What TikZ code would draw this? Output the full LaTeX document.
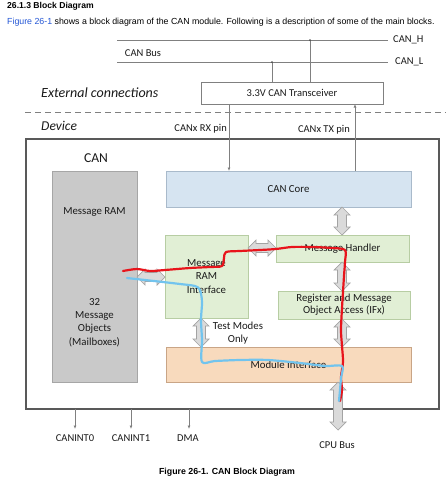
\documentclass[tikz,border=0pt]{standalone}
\usepackage{fontspec}
\setmainfont{Carlito}
\newfontfamily\arialf{Liberation Sans}
\usetikzlibrary{arrows.meta}
\definecolor{linegray}{HTML}{808080}
\definecolor{txt}{HTML}{1A1A1A}
\definecolor{ramfill}{HTML}{C9C9C9}
\definecolor{ramdraw}{HTML}{A6A6A6}
\definecolor{corefill}{HTML}{D6E4F1}
\definecolor{coredraw}{HTML}{A9BACB}
\definecolor{grnfill}{HTML}{E1EFD5}
\definecolor{grndraw}{HTML}{B7CDA3}
\definecolor{miffill}{HTML}{F8DABD}
\definecolor{mifdraw}{HTML}{C9A586}
\definecolor{arrfill}{HTML}{DADADA}
\definecolor{arrdraw}{HTML}{A3A3A3}
\definecolor{linkblue}{HTML}{2457D6}
\definecolor{penred}{HTML}{E8141B}
\definecolor{penblue}{HTML}{72C4EE}
\tikzset{
  boxbase/.style={inner sep=0pt, outer sep=0pt, text=txt, align=center, font=\fontsize{10.8}{12.6}\selectfont},
  grnbox/.style={boxbase, draw=grndraw, fill=grnfill, line width=0.8pt},
  barrow/.style={draw=arrdraw, fill=arrfill, line width=0.7pt, line join=miter},
  thinarr/.style={draw=linegray, line width=0.7pt, -{Latex[length=3.5pt,width=3pt]}},
  lbl/.style={text=txt, inner sep=0pt, font=\fontsize{10.5}{12.6}\selectfont},
  redpen/.style={draw=penred, line width=2.2pt, line cap=round, line join=round},
  bluepen/.style={draw=penblue, line width=2.2pt, line cap=round, line join=round}
}
% vertical block arrow: x, ytop, ybottom
\newcommand\vblk[3]{%
  \draw[barrow] (#1-4.5,#2+8) -- (#1-8,#2+8) -- (#1,#2) -- (#1+8,#2+8) -- (#1+4.5,#2+8)
    -- (#1+4.5,#3-8) -- (#1+8,#3-8) -- (#1,#3) -- (#1-8,#3-8) -- (#1-4.5,#3-8) -- cycle;}
% horizontal block arrow: y, xleft, xright
\newcommand\hblk[3]{%
  \draw[barrow] (#2+8,#1-4.5) -- (#2+8,#1-8) -- (#2,#1) -- (#2+8,#1+8) -- (#2+8,#1+4.5)
    -- (#3-8,#1+4.5) -- (#3-8,#1+8) -- (#3,#1) -- (#3-8,#1-8) -- (#3-8,#1-4.5) -- cycle;}
\begin{document}
\begin{tikzpicture}[x=1pt,y=-1pt]
\useasboundingbox (0,0) rectangle (446,480);
\fill[white] (0,0) rectangle (446,480);

% header text
\node[anchor=base west, inner sep=0pt, font=\arialf\bfseries\fontsize{8.6}{10}\selectfont] (title) at (7,8.5) {26.1.3 Block Diagram};
\node[anchor=base west, inner sep=0pt, font=\arialf\fontsize{8.8}{10}\selectfont] (intro) at (7,24.5) {\textcolor{linkblue}{Figure 26-1} shows a block diagram of the CAN module. Following is a description of some of the main blocks.};

% CAN bus
\coordinate (hL) at (117,40); \coordinate (hR) at (388,40);
\coordinate (lL) at (117,62); \coordinate (lR) at (388,62);
\draw[linegray, line width=0.8pt] (hL) -- (hR);
\draw[linegray, line width=0.8pt] (lL) -- (lR);
\node[lbl, anchor=west] (canh) at (393,40) {CAN\_H};
\node[lbl, anchor=west] (canl) at (395,62) {CAN\_L};
\node[lbl] (canbus) at (143,53) {CAN Bus};

% transceiver
\node[boxbase, draw=linegray, fill=white, line width=0.8pt, minimum width=182pt, minimum height=22pt, font=\fontsize{10.5}{12}\selectfont] (trans) at (292,93) {3.3V CAN Transceiver};
\coordinate (dh) at (310,40);
\coordinate (dl) at (272,62);
\draw[linegray, line width=0.8pt] (dh) -- (dh |- trans.north);
\draw[linegray, line width=0.8pt] (dl) -- (dl |- trans.north);
\fill[black!70] (dh) circle (1pt) (dl) circle (1pt);

\node[anchor=west, inner sep=0pt, text=txt, font=\itshape\fontsize{14}{16}\selectfont] (ext) at (41,93) {External connections};
\draw[linegray, line width=0.9pt, dash pattern=on 6pt off 4pt] (25,112) -- (446,112);
\node[anchor=west, inner sep=0pt, text=txt, font=\itshape\fontsize{13.5}{16}\selectfont] (dev) at (41,126) {Device};

% device box
\node[inner sep=0pt, outer sep=0pt, draw=black!65, line width=1.1pt, minimum width=413pt, minimum height=270pt] (device) at (232.5,274) {};
\node[inner sep=0pt, text=txt, font=\fontsize{13.6}{16}\selectfont] (can) at (96,158) {CAN};

% blocks
\node[boxbase, draw=ramdraw, fill=ramfill, line width=0.8pt, minimum width=85pt, minimum height=211pt] (ram) at (94.5,276.5) {};
\node[boxbase] (ramt) at (94.5,212) {Message RAM};
\node[boxbase, font=\fontsize{10.8}{13.3}\selectfont] (ramt2) at (94.5,322.5) {32\\Message\\Objects\\(Mailboxes)};

\node[boxbase, draw=coredraw, fill=corefill, line width=0.8pt, minimum width=245pt, minimum height=36pt] (core) at (288.5,189) {CAN Core};
\node[grnbox, minimum width=83pt, minimum height=83pt, font=\fontsize{10.8}{13.5}\selectfont] (mri) at (206.5,276.5) {Message\\RAM\\Interface};
\node[grnbox, minimum width=133pt, minimum height=27pt] (mh) at (342.5,248.5) {Message Handler};
\node[grnbox, minimum width=132pt, minimum height=28pt, font=\fontsize{10.8}{12}\selectfont] (reg) at (344,305) {Register and Message\\Object Access (IFx)};
\node[boxbase, draw=mifdraw, fill=miffill, line width=0.8pt, minimum width=245pt, minimum height=35pt] (mif) at (288.5,364.5) {Module Interface};

% pin arrows
\draw[thinarr] (trans.south -| 229,0) -- (core.north -| 229,0);
\draw[thinarr] (core.north -| 355,0) -- (trans.south -| 355,0);
\node[lbl, anchor=east] (rx) at (227,129) {CANx RX pin};
\node[lbl, anchor=east] (tx) at (350,130) {CANx TX pin};

% block arrows
\hblk{277}{137}{165}
\hblk{248}{248}{276}
\vblk{342}{207}{235}
\vblk{342}{262}{291}
\vblk{342}{319}{347}
\vblk{201}{318}{347}
\vblk{338}{382}{430}
\node[boxbase, font=\fontsize{10.8}{13.3}\selectfont] (tm) at (238,333) {Test Modes\\Only};
\node[lbl] (cpu) at (337,445) {CPU Bus};

% bottom signals
\coordinate (i0) at (75,409); \coordinate (i1) at (131,409); \coordinate (i2) at (189,409);
\node[lbl] (int0) at (75,438) {CANINT0};
\node[lbl] (int1) at (131,438) {CANINT1};
\node[lbl] (dma) at (188,438) {DMA};
\draw[thinarr] (i0) -- (i0 |- 0,429);
\draw[thinarr] (i1) -- (i1 |- 0,429);
\draw[thinarr] (i2) -- (i2 |- 0,429);

% hand-drawn overlays
\draw[redpen] plot[smooth, tension=0.5] coordinates {(123,271) (137,269) (150,271) (165,270) (190,268) (210,267) (222,266) (224,258) (226,252) (240,251) (260,250) (276,249) (292,247) (312,247) (332,248) (345,250) (345,262) (344,276) (343,292) (342,308) (341,330) (342,346) (343,362) (341,377) (342,390) (340,401)};
\draw[bluepen] plot[smooth, tension=0.5] coordinates {(127,278) (145,280) (163,282) (180,284) (195,286) (200,290) (202,302) (201,320) (202,340) (202,362) (215,361) (240,360) (268,360) (300,363) (325,366) (342,366) (341,378) (340,390) (339,401)};

% caption
\node[inner sep=0pt, font=\arialf\bfseries\fontsize{8.8}{10}\selectfont] (cap) at (227,472) {Figure 26-1. CAN Block Diagram};
\end{tikzpicture}
\end{document}
